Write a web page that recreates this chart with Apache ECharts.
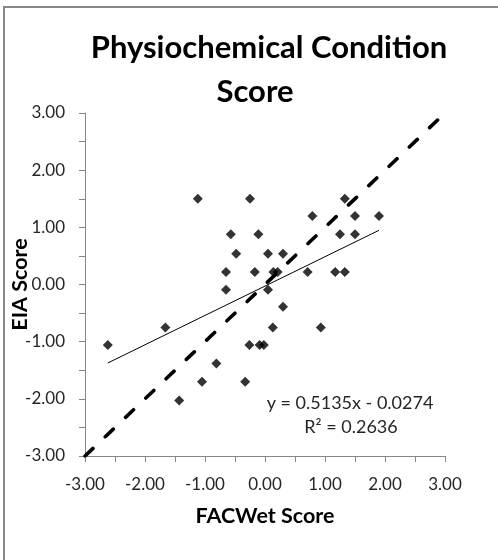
<!DOCTYPE html>
<html>
<head>
<meta charset="utf-8">
<script src="https://cdn.jsdelivr.net/npm/echarts@6/dist/echarts.min.js"></script>
<style>
html,body{margin:0;padding:0;background:#fff;}
#chart{width:498px;height:560px;}
</style>
</head>
<body>
<div id="chart"></div>
<script>
// FACWet score (x) and EIA score (y) for each site
var xValues = [-2.62, -1.66, -1.43, -1.12, -1.05, -0.81, -0.65, -0.65, -0.57, -0.48,
               -0.33, -0.25, -0.26, -0.17, -0.11, -0.09, -0.02, 0.05, 0.05, 0.14,
               0.21, 0.30, 0.30, 0.13, 0.93, 0.71, 0.79, 1.17, 1.33, 1.25,
               1.33, 1.50, 1.50, 1.90];
var yValues = [-1.06, -0.75, -2.03, 1.50, -1.70, -1.38, 0.22, -0.09, 0.88, 0.54,
               -1.70, 1.50, -1.06, 0.22, 0.88, -1.06, -1.06, 0.54, -0.09, 0.22,
               0.22, 0.54, -0.39, -0.75, -0.75, 0.22, 1.20, 0.22, 0.22, 0.88,
               1.50, 1.20, 0.88, 1.20];
// 1:1 reference line
var refLineX = [-3, 3];
var refLineY = [-3, 3];
// linear trendline
var trendSlope = 0.5135;
var trendIntercept = -0.0274;
var trendR2 = 0.2636;
var trendX = [-2.62, 1.90];
var tickValues = [-3, -2, -1, 0, 1, 2, 3];

var FONT = 'Lato';
var scatterData = xValues.map(function (x, i) { return [x, yValues[i]]; });
var refData = refLineX.map(function (x, i) { return [x, refLineY[i]]; });
var trendData = trendX.map(function (x) { return [x, trendSlope * x + trendIntercept]; });

var chart = echarts.init(document.getElementById('chart'));
function axisCommon(name, isY) {
  return {
    type: 'value',
    min: tickValues[0],
    max: tickValues[tickValues.length - 1],
    interval: 1,
    name: name,
    nameLocation: 'middle',
    nameGap: isY ? 54 : 49,
    nameMoveOverlap: false,
    nameTextStyle: { fontFamily: FONT, fontWeight: 'bold', fontSize: 21.5, color: '#000' },
    axisLine: { show: true, onZero: false, lineStyle: { color: '#868686', width: 1 } },
    axisTick: { show: true, inside: false, length: 6, lineStyle: { color: '#868686' } },
    minorTick: { show: true, splitNumber: 2, length: 6, lineStyle: { color: '#868686' } },
    splitLine: { show: false },
    minorSplitLine: { show: false },
    axisLabel: {
      fontFamily: FONT, fontSize: 17, color: '#262626', margin: isY ? 20 : 20,
      formatter: function (v) { return v.toFixed(2); }
    }
  };
}
var xAx = axisCommon('FACWet Score', false);
var yAx = axisCommon('EIA Score', true);
yAx.nameRotate = 90;

chart.setOption({
  animation: false,
  backgroundColor: '#fff',
  title: [
    { text: 'Physiochemical Condition', left: 264, top: 27, textAlign: 'center',
      textStyle: { fontFamily: FONT, fontWeight: 'bold', fontSize: 31, color: '#000' } },
    { text: 'Score', left: 250, top: 71, textAlign: 'center',
      textStyle: { fontFamily: FONT, fontWeight: 'bold', fontSize: 31, color: '#000' } }
  ],
  grid: { left: 85, right: 53, top: 113, bottom: 104, containLabel: false, outerBoundsMode: 'none' },
  xAxis: xAx,
  yAxis: yAx,
  series: [
    {
      type: 'line', data: refData, symbol: 'none', silent: true, z: 1,
      lineStyle: { color: '#000', width: 3.6, type: [11, 17], cap: 'round' }
    },
    {
      type: 'line', data: trendData, symbol: 'none', silent: true, z: 2,
      lineStyle: { color: '#000', width: 1 }
    },
    {
      type: 'scatter', data: scatterData, symbol: 'diamond', symbolSize: 10, z: 3,
      itemStyle: { color: '#000' }
    }
  ],
  graphic: [
    { type: 'rect', shape: { x: 4, y: 7, width: 700, height: 700 }, silent: true,
      style: { fill: 'none', stroke: '#878787', lineWidth: 2 } },
    { type: 'text', x: 350, y: 403, silent: true,
      style: { text: 'y = ' + trendSlope + 'x - ' + Math.abs(trendIntercept), fontFamily: FONT, fontSize: 18,
               fill: '#262626', align: 'center', verticalAlign: 'middle' } },
    { type: 'text', x: 351, y: 427, silent: true,
      style: { text: 'R² = ' + trendR2, fontFamily: FONT, fontSize: 18,
               fill: '#262626', align: 'center', verticalAlign: 'middle' } }
  ]
});
</script>
</body>
</html>
